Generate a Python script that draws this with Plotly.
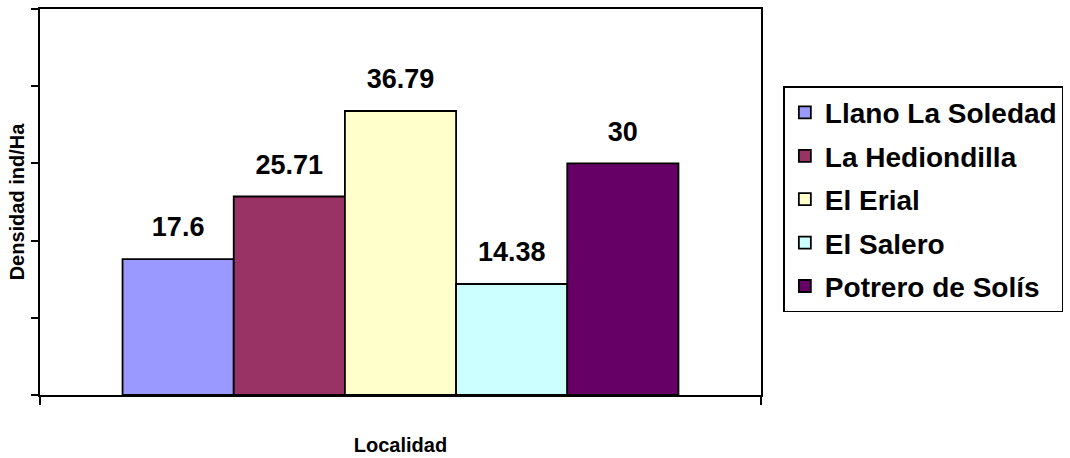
import plotly.graph_objects as go

localidades = ["Llano La Soledad", "La Hediondilla", "El Erial", "El Salero", "Potrero de Solís"]
densidad = [17.6, 25.71, 36.79, 14.38, 30]
colores = ["#9999FF", "#993366", "#FFFFCC", "#CCFFFF", "#660066"]

FONT = "Liberation Sans, Arial, sans-serif"

fig = go.Figure()
for i, (name, val, col) in enumerate(zip(localidades, densidad, colores)):
    fig.add_trace(go.Bar(
        x=[0], y=[val], name=name, offsetgroup=str(i), legendgroup=str(i),
        marker=dict(color=col, line=dict(color="black", width=1.8)),
        hoverinfo="skip",
    ))
for i, (name, val) in enumerate(zip(localidades, densidad)):
    fig.add_trace(go.Scatter(
        x=[0], y=[val], mode="markers+text", offsetgroup=str(i),
        text=[f"{val:g}"], textposition="top center",
        textfont=dict(family=FONT, size=27, color="black", weight="bold"),
        marker=dict(size=24, opacity=0), showlegend=False, hoverinfo="skip",
        cliponaxis=False,
    ))

fig.update_layout(
    width=1070, height=458,
    margin=dict(l=40, r=306, t=7, b=61),
    paper_bgcolor="white", plot_bgcolor="white",
    barmode="group", bargap=0.229, bargroupgap=0,
    scattermode="group", scattergap=0.229,
    font=dict(family=FONT, color="black"),
    legend=dict(
        x=1.031, y=0.80, xanchor="left", yanchor="top",
        font=dict(family=FONT, size=28, color="black", weight="bold"),
        bordercolor="black", borderwidth=1.5, bgcolor="white",
        tracegroupgap=4, itemwidth=30,
    ),
    showlegend=True,
)
fig.update_xaxes(
    range=[-0.5, 0.5], tickvals=[-0.5, 0.5], showticklabels=False,
    ticks="outside", ticklen=8, tickwidth=1.8, tickcolor="black",
    showline=True, linecolor="black", linewidth=2, mirror=True,
    showgrid=False, zeroline=False,
    title=dict(text="Localidad", font=dict(family=FONT, size=20, color="black", weight="bold"), standoff=34),
)
fig.update_yaxes(
    range=[0, 50], dtick=10, tick0=0, showticklabels=False,
    ticks="outside", ticklen=7, tickwidth=1.8, tickcolor="black",
    showline=True, linecolor="black", linewidth=2, mirror=True,
    showgrid=False, zeroline=False,
    title=dict(text="Densidad ind/Ha", font=dict(family=FONT, size=20, color="black", weight="bold"), standoff=1),
)

fig.write_html("out.html")
